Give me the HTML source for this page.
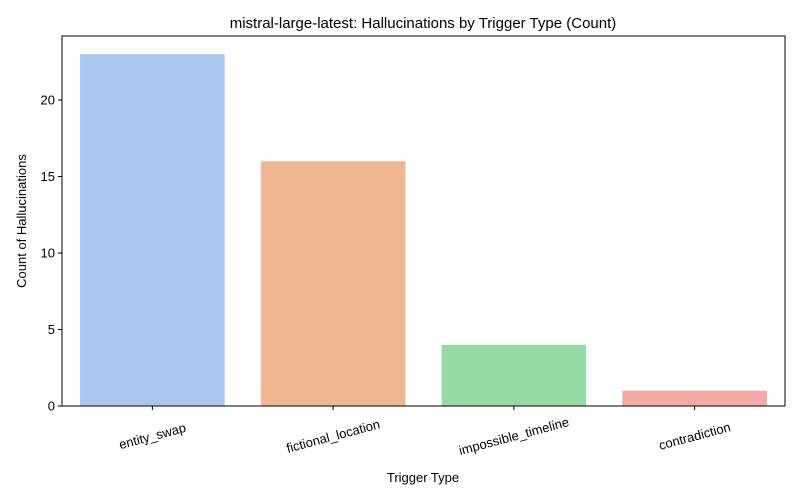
<!DOCTYPE html>
<html><head><meta charset="utf-8"><style>
body{margin:0;background:#fff;}
svg{display:block;font-family:"Liberation Sans","DejaVu Sans",sans-serif;}
</style></head><body>
<svg id="chart" width="800" height="500" viewBox="0 0 800 500">
<rect width="800" height="500" fill="#fff"/>
<text x="423" y="28" text-anchor="middle" font-size="15" fill="#000">mistral-large-latest: Hallucinations by Trigger Type (Count)</text>
<g id="bars"></g>
<g id="yaxis"></g>
<g id="xaxis"></g>
<rect x="62" y="36" width="723" height="370" fill="none" stroke="#000" stroke-width="1"/>
<text x="423" y="482" text-anchor="middle" font-size="13">Trigger Type</text>
<text transform="translate(26,221) rotate(-90)" text-anchor="middle" font-size="13">Count of Hallucinations</text>
</svg>
<script>
const categories=["entity_swap","fictional_location","impossible_timeline","contradiction"];
const counts=[23,16,4,1];
const colors=["#abc9ee","#f0b892","#98d9a8","#f3aaa6"];
const yTicks=[0,5,10,15,20];
const NS="http://www.w3.org/2000/svg";
const L=62,R=785,T=36,B=406,yMax=(B-T)/15.3;
const y=v=>B-v/yMax*(B-T);
const band=(R-L)/categories.length;
const x=i=>L+band*i;
function mk(tag,attrs,parent){const e=document.createElementNS(NS,tag);for(const k in attrs)e.setAttribute(k,attrs[k]);parent.appendChild(e);return e;}
const gb=document.getElementById('bars'),gy=document.getElementById('yaxis'),gx=document.getElementById('xaxis');
counts.forEach((v,i)=>{
 const r=mk('rect',{x:x(i)+band*0.1,y:y(v),width:band*0.8,height:B-y(v),fill:colors[i]},gb);
 
 
 const cx=x(i)+band/2;
 const t=mk('line',{x1:cx,x2:cx,y1:B,y2:B+4,stroke:'#000'},gx);
 
 
 const lb=mk('text',{transform:`translate(${cx},${B+30}) rotate(-15)`,'text-anchor':'middle','font-size':'13',dy:'0.35em'},gx);
 lb.textContent=categories[i];
 
 
});
yTicks.forEach(v=>{
 const t=mk('line',{x1:L-4,x2:L,y1:y(v),y2:y(v),stroke:'#000'},gy);
 
 
 const lb=mk('text',{x:L-7,y:y(v)+4.5,'text-anchor':'end','font-size':'13'},gy);
 lb.textContent=v;
 
 
});
</script>
</body></html>
